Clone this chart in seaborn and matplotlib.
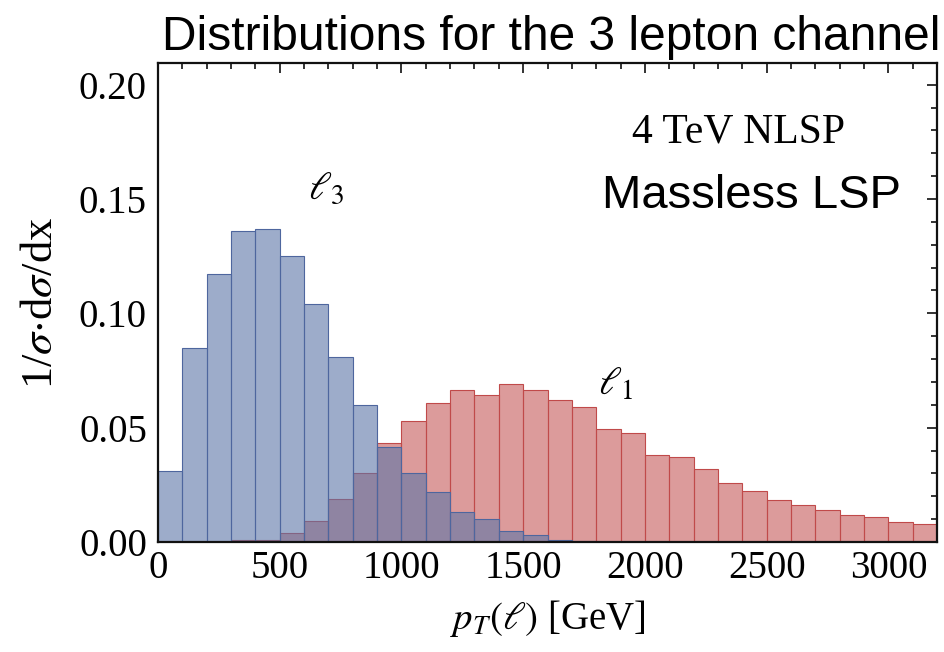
import numpy as np
import pandas as pd
import matplotlib
matplotlib.use("Agg")
import matplotlib.pyplot as plt
import seaborn as sns
from matplotlib.ticker import MultipleLocator, FormatStrFormatter

# Histogram binning: 100 GeV bins from 0 to 3200 GeV
bin_width = 100
bin_range = (0, 3200)
bin_centers = np.arange(bin_range[0], bin_range[1], bin_width) + bin_width / 2

# Normalised pT distributions (1/sigma dsigma/dx per bin)
lepton3 = [0.031, 0.085, 0.117, 0.136, 0.137, 0.125, 0.104, 0.081, 0.060, 0.0415,
           0.030, 0.0217, 0.0132, 0.0101, 0.0048, 0.003, 0.0007, 0.0005, 0.0, 0.0,
           0.0, 0.0, 0.0, 0.0, 0.0, 0.0, 0.0, 0.0, 0.0, 0.0, 0.0, 0.0]
lepton1 = [0.0, 0.0, 0.0, 0.0007, 0.0008, 0.004, 0.0092, 0.0186, 0.030, 0.0435,
           0.053, 0.061, 0.0663, 0.0643, 0.0693, 0.0663, 0.062, 0.059, 0.0496, 0.0476,
           0.038, 0.037, 0.0318, 0.0256, 0.0224, 0.0183, 0.0161, 0.0141, 0.012, 0.011,
           0.0089, 0.0078]

x_ticks = [0, 500, 1000, 1500, 2000, 2500, 3000]
y_ticks = [0.00, 0.05, 0.10, 0.15, 0.20]

df = pd.DataFrame({"pt": bin_centers, "l1": lepton1, "l3": lepton3})

sns.set_style("white")
plt.rcParams["mathtext.fontset"] = "stix"
plt.rcParams["font.family"] = ["Liberation Serif", "DejaVu Serif"]
plt.rcParams["text.color"] = "black"
plt.rcParams["axes.labelcolor"] = "black"
plt.rcParams["xtick.color"] = "black"
plt.rcParams["ytick.color"] = "black"

fig = plt.figure(figsize=(9.44, 6.52), dpi=100)
ax = fig.add_axes([158 / 944, 1 - 542 / 652, (937 - 158) / 944, (542 - 63) / 652])

sns.histplot(data=df, x="pt", weights="l1", binwidth=bin_width, binrange=bin_range,
             stat="count", color="#C55858", alpha=0.6, edgecolor="#C04A4A",
             linewidth=0.8, ax=ax)
sns.histplot(data=df, x="pt", weights="l3", binwidth=bin_width, binrange=bin_range,
             stat="count", color="#5C75A8", alpha=0.6, edgecolor="#4E669E",
             linewidth=0.8, ax=ax)

ax.set_xlim(0, 3200)
ax.set_ylim(0, 0.2095)
ax.set_xticks(x_ticks)
ax.set_yticks(y_ticks)
ax.xaxis.set_minor_locator(MultipleLocator(100))
ax.yaxis.set_minor_locator(MultipleLocator(0.01))
ax.yaxis.set_major_formatter(FormatStrFormatter("%.2f"))

ax.tick_params(which="both", direction="in", top=True, right=True,
               color="#111111", width=1.2)
ax.tick_params(which="major", length=7, labelsize=28)
ax.tick_params(axis="x", which="major", pad=6)
ax.tick_params(axis="y", which="major", pad=8)
ax.tick_params(which="minor", length=4)
for lbl in ax.get_xticklabels() + ax.get_yticklabels():
    lbl.set_fontfamily("Liberation Serif")

for sp in ax.spines.values():
    sp.set_linewidth(1.6)
    sp.set_color("#111111")

ax.set_xlabel(r"$p_T(\ell)$ [GeV]", fontsize=28, labelpad=8)
ax.set_ylabel(r"1/$\sigma$$\cdot$d$\sigma$/dx", fontsize=32, labelpad=13)

ax.text(690, 0.154, r"$\ell_3$", fontsize=28, ha="center", va="center")
ax.text(1880, 0.0687, r"$\ell_1$", fontsize=28, ha="center", va="center")

fig.text(739 / 944, 1 - 143 / 652, "4 TeV NLSP", fontsize=30,
         family="Liberation Serif", ha="center", va="baseline")
fig.text(751 / 944, 1 - 208 / 652, "Massless LSP", fontsize=34,
         family="Liberation Sans", ha="center", va="baseline")
fig.text(551 / 944, 1 - 50 / 652, "Distributions for the 3 lepton channel",
         fontsize=34.5, family="Liberation Sans", ha="center", va="baseline")

fig.savefig("out.png", dpi=100)
